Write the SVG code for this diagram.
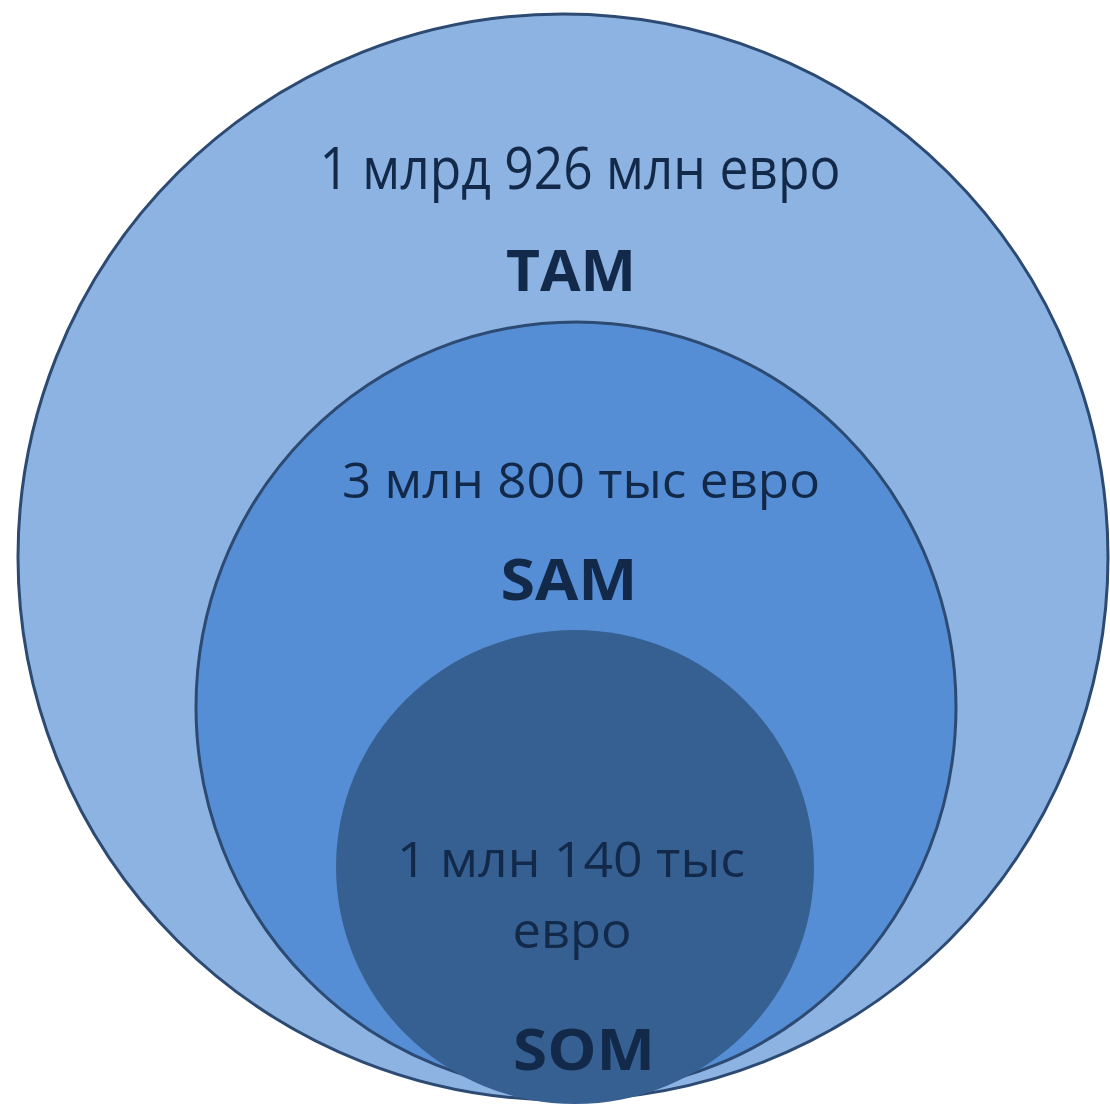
<svg xmlns="http://www.w3.org/2000/svg" width="1110" height="1105" viewBox="0 0 1110 1105">
<style>
.c{stroke:#2c4a72;stroke-width:3}
.t{font-family:"Open Sans","DejaVu Sans",sans-serif;fill:#13294a;text-anchor:middle}
.b{font-weight:bold}
</style>
<rect width="1110" height="1105" fill="#ffffff"/>
<g id="tam">
<ellipse class="c" cx="563" cy="557" rx="545" ry="543" fill="#8db3e2"/>
<text class="t" x="580" y="189" font-size="58" textLength="521" lengthAdjust="spacingAndGlyphs">1 млрд 926 млн евро</text>
<text class="t b" x="571" y="291" font-size="58" textLength="130" lengthAdjust="spacingAndGlyphs">TAM</text>
</g>
<g id="sam">
<ellipse class="c" cx="576" cy="707" rx="380" ry="385" fill="#558ed5"/>
<text class="t" x="581" y="498" font-size="50" textLength="478" lengthAdjust="spacingAndGlyphs">3 млн 800 тыс евро</text>
<text class="t b" x="569" y="600" font-size="58" textLength="137" lengthAdjust="spacingAndGlyphs">SAM</text>
</g>
<g id="som">
<ellipse cx="575" cy="867" rx="239" ry="237" fill="#366092"/>
<text class="t" x="571" y="877" font-size="50" textLength="348" lengthAdjust="spacingAndGlyphs">1 млн 140 тыс</text>
<text class="t" x="572" y="948" font-size="50" textLength="119" lengthAdjust="spacingAndGlyphs">евро</text>
<text class="t b" x="584" y="1070" font-size="58" textLength="142" lengthAdjust="spacingAndGlyphs">SOM</text>
</g>
<g id="connectors"></g>
</svg>
